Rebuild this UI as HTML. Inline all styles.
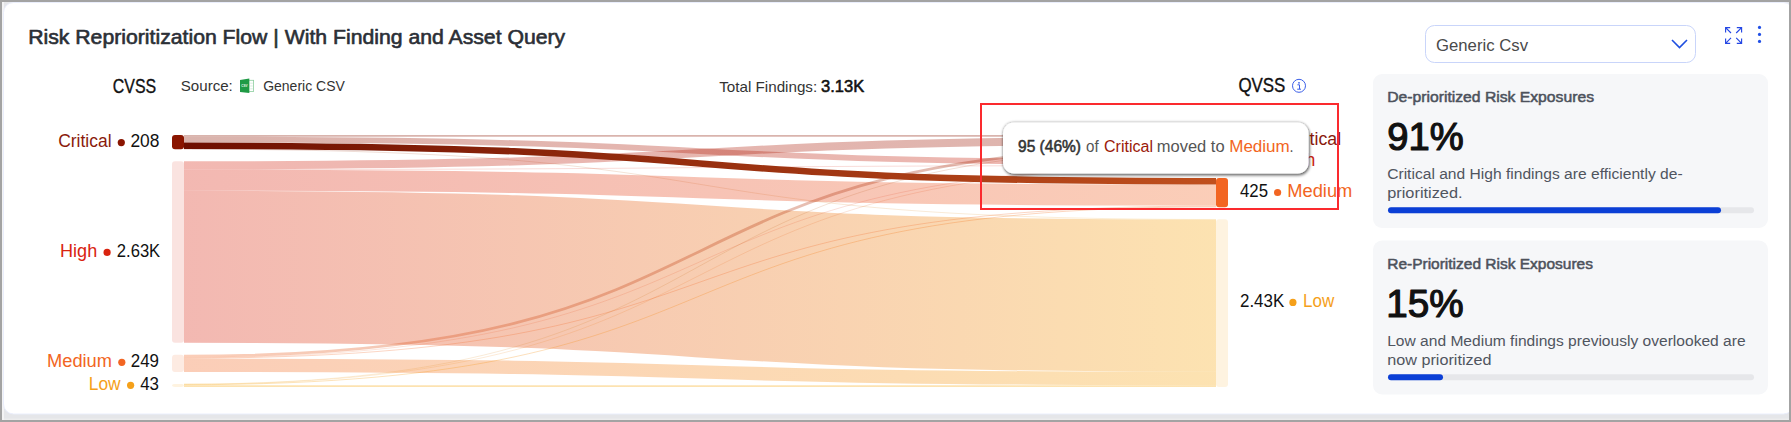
<!DOCTYPE html>
<html><head><meta charset="utf-8"><style>
html,body{margin:0;padding:0;width:1791px;height:422px;overflow:hidden;background:#a3a3a3;}
svg{display:block;}
text{font-family:"Liberation Sans", sans-serif;}
</style></head><body>
<svg width="1791" height="422" viewBox="0 0 1791 422">
<defs>
<linearGradient id="gCC" gradientUnits="userSpaceOnUse" x1="184" x2="1216" y1="0" y2="0"><stop offset="0" stop-color="#8a1500"/><stop offset="1" stop-color="#8a1500"/></linearGradient>
<linearGradient id="gCH" gradientUnits="userSpaceOnUse" x1="184" x2="1216" y1="0" y2="0"><stop offset="0" stop-color="#8a1500"/><stop offset="1" stop-color="#d9230f"/></linearGradient>
<linearGradient id="gCM" gradientUnits="userSpaceOnUse" x1="184" x2="1216" y1="0" y2="0"><stop offset="0" stop-color="#6e0e00"/><stop offset="1" stop-color="#c0501e"/></linearGradient>
<linearGradient id="gCL" gradientUnits="userSpaceOnUse" x1="184" x2="1216" y1="0" y2="0"><stop offset="0" stop-color="#8a1500"/><stop offset="1" stop-color="#f7a60c"/></linearGradient>
<linearGradient id="gHC" gradientUnits="userSpaceOnUse" x1="184" x2="1216" y1="0" y2="0"><stop offset="0" stop-color="#d9230f"/><stop offset="1" stop-color="#8a1500"/></linearGradient>
<linearGradient id="gHH" gradientUnits="userSpaceOnUse" x1="184" x2="1216" y1="0" y2="0"><stop offset="0" stop-color="#d9230f"/><stop offset="1" stop-color="#d9230f"/></linearGradient>
<linearGradient id="gHM" gradientUnits="userSpaceOnUse" x1="184" x2="1216" y1="0" y2="0"><stop offset="0" stop-color="#d9230f"/><stop offset="1" stop-color="#f26522"/></linearGradient>
<linearGradient id="gHL" gradientUnits="userSpaceOnUse" x1="184" x2="1216" y1="0" y2="0"><stop offset="0" stop-color="#d9230f"/><stop offset="1" stop-color="#f7a60c"/></linearGradient>
<linearGradient id="gMC" gradientUnits="userSpaceOnUse" x1="184" x2="1216" y1="0" y2="0"><stop offset="0" stop-color="#f26522"/><stop offset="1" stop-color="#8a1500"/></linearGradient>
<linearGradient id="gMH" gradientUnits="userSpaceOnUse" x1="184" x2="1216" y1="0" y2="0"><stop offset="0" stop-color="#f26522"/><stop offset="1" stop-color="#d9230f"/></linearGradient>
<linearGradient id="gMM" gradientUnits="userSpaceOnUse" x1="184" x2="1216" y1="0" y2="0"><stop offset="0" stop-color="#f26522"/><stop offset="1" stop-color="#f26522"/></linearGradient>
<linearGradient id="gML" gradientUnits="userSpaceOnUse" x1="184" x2="1216" y1="0" y2="0"><stop offset="0" stop-color="#f26522"/><stop offset="1" stop-color="#f7a60c"/></linearGradient>
<linearGradient id="gLC" gradientUnits="userSpaceOnUse" x1="184" x2="1216" y1="0" y2="0"><stop offset="0" stop-color="#f7a60c"/><stop offset="1" stop-color="#8a1500"/></linearGradient>
<linearGradient id="gLH" gradientUnits="userSpaceOnUse" x1="184" x2="1216" y1="0" y2="0"><stop offset="0" stop-color="#f7a60c"/><stop offset="1" stop-color="#d9230f"/></linearGradient>
<linearGradient id="gLM" gradientUnits="userSpaceOnUse" x1="184" x2="1216" y1="0" y2="0"><stop offset="0" stop-color="#f7a60c"/><stop offset="1" stop-color="#f26522"/></linearGradient>
<linearGradient id="gLL" gradientUnits="userSpaceOnUse" x1="184" x2="1216" y1="0" y2="0"><stop offset="0" stop-color="#f7a60c"/><stop offset="1" stop-color="#f7a60c"/></linearGradient>
<filter id="tipsh" x="-10%" y="-40%" width="120%" height="190%">
<feGaussianBlur in="SourceAlpha" stdDeviation="1.6" result="b1"/>
<feOffset in="b1" dx="1.2" dy="1.6" result="o1"/>
<feComponentTransfer in="o1" result="s1"><feFuncA type="linear" slope="0.5"/></feComponentTransfer>
<feGaussianBlur in="SourceAlpha" stdDeviation="1.8" result="b0"/>
<feComponentTransfer in="b0" result="s0"><feFuncA type="linear" slope="0.45"/></feComponentTransfer>
<feMerge><feMergeNode in="s0"/><feMergeNode in="s1"/><feMergeNode in="SourceGraphic"/></feMerge>
</filter>
</defs>
<rect x="0" y="0" width="1791" height="422" fill="#e5e6e9"/>
<rect x="0" y="418.5" width="1791" height="2" fill="#ececed"/>
<rect x="2" y="2" width="2" height="418" fill="#f3f3f4"/>
<rect x="3.5" y="2.5" width="1790" height="411.5" rx="10" fill="#fff" stroke="#eaeefc" stroke-width="1"/>
<!-- header -->
<g>
<rect x="248.8" y="80.3" width="4.8" height="11.2" fill="#fff" stroke="#8ccf9f" stroke-width="0.8"/>
<path d="M240,79.9 L249.3,78.4 L249.3,92.9 L240,92.1 Z" fill="#1f9a45"/>
<text x="241.3" y="87.2" font-size="4.3" font-weight="bold" fill="#e8f6ec" textLength="6.3" lengthAdjust="spacingAndGlyphs">CSV</text>
<line x1="250.2" y1="83.2" x2="252.8" y2="83.2" stroke="#c9e7d2" stroke-width="0.7"/>
<line x1="250.2" y1="86" x2="252.8" y2="86" stroke="#c9e7d2" stroke-width="0.7"/>
<line x1="250.2" y1="88.8" x2="252.8" y2="88.8" stroke="#c9e7d2" stroke-width="0.7"/>
</g>
<g transform="translate(1299,85.8)">
<circle r="6.5" fill="none" stroke="#3b5fe8" stroke-width="1"/>
<circle cx="0" cy="-3" r="0.9" fill="#3b5fe8"/>
<path d="M-1.6,-1 H0.5 V3.2 M-1.8,3.4 H2" stroke="#3b5fe8" stroke-width="1" fill="none"/>
</g>
<!-- sankey -->
<g>
<path d="M184,135.83C784,135.83 616,135.83 1216,135.83" fill="none" stroke="url(#gCC)" stroke-opacity="0.32" stroke-width="1.66"/>
<path d="M184,139.55C784,139.55 616,162.53 1216,162.53" fill="none" stroke="url(#gCH)" stroke-opacity="0.32" stroke-width="5.80"/>
<path d="M184,149.18C784,149.18 616,219.48 1216,219.48" fill="none" stroke="url(#gCL)" stroke-opacity="0.32" stroke-width="0.50"/>
<path d="M184,165.36C784,165.36 616,140.66 1216,140.66" fill="none" stroke="url(#gHC)" stroke-opacity="0.32" stroke-width="8.01"/>
<path d="M184,169.53C784,169.53 616,165.60 1216,165.60" fill="none" stroke="url(#gHH)" stroke-opacity="0.32" stroke-width="0.50"/>
<path d="M184,180.23C784,180.23 616,195.06 1216,195.06" fill="none" stroke="url(#gHM)" stroke-opacity="0.32" stroke-width="21.05"/>
<path d="M184,266.80C784,266.80 616,295.70 1216,295.70" fill="none" stroke="url(#gHL)" stroke-opacity="0.32" stroke-width="152.10"/>
<path d="M184,356.23C784,356.23 616,146.04 1216,146.04" fill="none" stroke="url(#gMC)" stroke-opacity="0.32" stroke-width="2.76"/>
<path d="M184,357.68C784,357.68 616,165.84 1216,165.84" fill="none" stroke="url(#gMH)" stroke-opacity="0.32" stroke-width="0.50"/>
<path d="M184,358.16C784,358.16 616,206.00 1216,206.00" fill="none" stroke="url(#gMM)" stroke-opacity="0.32" stroke-width="0.83"/>
<path d="M184,365.30C784,365.30 616,378.48 1216,378.48" fill="none" stroke="url(#gML)" stroke-opacity="0.32" stroke-width="13.46"/>
<path d="M184,384.14C784,384.14 616,147.53 1216,147.53" fill="none" stroke="url(#gLC)" stroke-opacity="0.32" stroke-width="0.50"/>
<path d="M184,384.27C784,384.27 616,165.94 1216,165.94" fill="none" stroke="url(#gLH)" stroke-opacity="0.32" stroke-width="0.50"/>
<path d="M184,384.76C784,384.76 616,206.86 1216,206.86" fill="none" stroke="url(#gLM)" stroke-opacity="0.32" stroke-width="0.90"/>
<path d="M184,386.10C784,386.10 616,386.10 1216,386.10" fill="none" stroke="url(#gLL)" stroke-opacity="0.32" stroke-width="1.79"/>
<path d="M184,145.73C784,145.73 616,181.26 1216,181.26" fill="none" stroke="url(#gCM)" stroke-opacity="1" stroke-width="6.56"/>
</g>
<g>
<rect x="172" y="135.00" width="12" height="14.35" rx="3" fill="#8a1500" fill-opacity="1"/>
<rect x="1216" y="135.00" width="12" height="12.63" rx="3" fill="#8a1500" fill-opacity="0.13"/>
<rect x="172" y="161.35" width="12" height="181.50" rx="3" fill="#d9230f" fill-opacity="0.13"/>
<rect x="1216" y="159.63" width="12" height="6.35" rx="3" fill="#d9230f" fill-opacity="0.13"/>
<rect x="172" y="354.85" width="12" height="17.18" rx="3" fill="#f26522" fill-opacity="0.13"/>
<rect x="1216" y="177.98" width="12" height="29.33" rx="3" fill="#f26522" fill-opacity="1"/>
<rect x="172" y="384.03" width="12" height="2.97" rx="3" fill="#f7a60c" fill-opacity="0.13"/>
<rect x="1216" y="219.31" width="12" height="167.69" rx="3" fill="#f7a60c" fill-opacity="0.13"/>
</g>
<!-- left labels -->
<circle cx="121.3" cy="142.6" r="3.6" fill="#8a1500"/>
<circle cx="107.1" cy="252.4" r="3.6" fill="#d9230f"/>
<circle cx="121.8" cy="362.3" r="3.6" fill="#f26522"/>
<circle cx="130.6" cy="385.3" r="3.6" fill="#f5a01a"/>
<!-- right labels -->
<circle cx="1277.6" cy="140.1" r="3.6" fill="#8a1500"/>
<circle cx="1268.6" cy="161.8" r="3.6" fill="#d9230f"/>
<circle cx="1277.6" cy="192.5" r="3.6" fill="#f26522"/>
<circle cx="1292.9" cy="302.4" r="3.6" fill="#f5a01a"/>
<text x="28.2" y="44" font-size="19.8" stroke="#2b2f36" stroke-width="0.6" stroke-linejoin="round" fill="#2b2f36" textLength="537.0" lengthAdjust="spacingAndGlyphs">Risk Reprioritization Flow | With Finding and Asset Query</text>
<text x="112.8" y="92.8" font-size="19.3" stroke="#111" stroke-width="0.35" stroke-linejoin="round" fill="#111" textLength="43.4" lengthAdjust="spacingAndGlyphs">CVSS</text>
<text x="180.8" y="91" font-size="14.6" fill="#333" textLength="52.0" lengthAdjust="spacingAndGlyphs">Source:</text>
<text x="263.2" y="91" font-size="14.6" fill="#333" textLength="81.6" lengthAdjust="spacingAndGlyphs">Generic CSV</text>
<text x="719.2" y="91.8" font-size="15" fill="#333" textLength="98.0" lengthAdjust="spacingAndGlyphs">Total Findings:</text>
<text x="821.0" y="92" font-size="16.5" stroke="#111" stroke-width="0.55" stroke-linejoin="round" fill="#111" textLength="43.2" lengthAdjust="spacingAndGlyphs">3.13K</text>
<text x="1238.4" y="91.7" font-size="19.3" stroke="#111" stroke-width="0.35" stroke-linejoin="round" fill="#111" textLength="47.0" lengthAdjust="spacingAndGlyphs">QVSS</text>
<text x="58.2" y="147" font-size="17.5" fill="#8a1a0c" textLength="53.4" lengthAdjust="spacingAndGlyphs">Critical</text>
<text x="130.4" y="147" font-size="17.5" fill="#111" textLength="29.0" lengthAdjust="spacingAndGlyphs">208</text>
<text x="60.0" y="256.8" font-size="17.5" fill="#d9230f" textLength="37.2" lengthAdjust="spacingAndGlyphs">High</text>
<text x="116.8" y="256.8" font-size="17.5" fill="#111" textLength="43.4" lengthAdjust="spacingAndGlyphs">2.63K</text>
<text x="47.0" y="366.9" font-size="17.5" fill="#f26522" textLength="65.0" lengthAdjust="spacingAndGlyphs">Medium</text>
<text x="130.8" y="366.9" font-size="17.5" fill="#111" textLength="28.2" lengthAdjust="spacingAndGlyphs">249</text>
<text x="88.8" y="390" font-size="17.5" fill="#f5a01a" textLength="31.8" lengthAdjust="spacingAndGlyphs">Low</text>
<text x="140.2" y="390" font-size="17.5" fill="#111" textLength="18.8" lengthAdjust="spacingAndGlyphs">43</text>
<text x="1239.0" y="144.5" font-size="17.5" fill="#111" textLength="29.0" lengthAdjust="spacingAndGlyphs">181</text>
<text y="144.5" font-size="17.5"><tspan x="1288.5" fill="#8a1a0c" textLength="20.0" lengthAdjust="spacingAndGlyphs">Cri</tspan><tspan x="1309.6" fill="#8a1a0c" textLength="31.6" lengthAdjust="spacingAndGlyphs">tical</tspan></text>
<text x="1239.0" y="166.2" font-size="17.5" fill="#111" textLength="19.8" lengthAdjust="spacingAndGlyphs">94</text>
<text y="166.2" font-size="17.5"><tspan x="1277.0" fill="#d9230f" textLength="27.0" lengthAdjust="spacingAndGlyphs">Hig</tspan><tspan x="1305.4" fill="#c8200f" textLength="9.8" lengthAdjust="spacingAndGlyphs">h</tspan></text>
<text x="1240.0" y="196.5" font-size="17.5" fill="#111" textLength="28.0" lengthAdjust="spacingAndGlyphs">425</text>
<text x="1287.2" y="196.5" font-size="17.5" fill="#f26522" textLength="65.2" lengthAdjust="spacingAndGlyphs">Medium</text>
<text x="1240.0" y="306.9" font-size="17.5" fill="#111" textLength="44.2" lengthAdjust="spacingAndGlyphs">2.43K</text>
<text x="1303.0" y="306.9" font-size="17.5" fill="#f5a01a" textLength="31.2" lengthAdjust="spacingAndGlyphs">Low</text>
<!-- tooltip -->
<rect x="1003" y="122.6" width="305.6" height="50.9" rx="11" fill="#fff" filter="url(#tipsh)"/>
<text x="1018.0" y="151.9" font-size="16" stroke="#333" stroke-width="0.55" stroke-linejoin="round" fill="#333" textLength="63.0" lengthAdjust="spacingAndGlyphs">95 (46%)</text>
<text x="1086.0" y="151.9" font-size="16" fill="#555" textLength="12.6" lengthAdjust="spacingAndGlyphs">of</text>
<text x="1104.0" y="151.9" font-size="16" fill="#9b1a0a" textLength="49.0" lengthAdjust="spacingAndGlyphs">Critical</text>
<text x="1156.8" y="151.9" font-size="16" fill="#555" textLength="67.8" lengthAdjust="spacingAndGlyphs">moved to</text>
<text x="1229.2" y="151.9" font-size="16" fill="#f26522" textLength="60.6" lengthAdjust="spacingAndGlyphs">Medium</text>
<text x="1289.6" y="151.9" font-size="16" fill="#555" textLength="4.0" lengthAdjust="spacingAndGlyphs">.</text>
<!-- red annotation -->
<rect x="981" y="104" width="357" height="105" fill="none" stroke="#fb2a2e" stroke-width="2"/>
<!-- dropdown -->
<rect x="1425.5" y="25.5" width="270" height="37" rx="9" fill="#fff" stroke="#c9d5fa" stroke-width="1"/>
<path d="M1672,40 L1679.5,47.5 L1687,40" fill="none" stroke="#1f4fe0" stroke-width="1.6"/>
<!-- expand icon -->
<g stroke="#2447e4" stroke-width="1.15" fill="none">
<path d="M1730.2,27.6 H1725.6 V32.4 M1725.6,27.6 L1731,33"/>
<path d="M1736.8,27.6 H1741.6 V32.4 M1741.6,27.6 L1736.2,33"/>
<path d="M1730.2,43.3 H1725.6 V38.5 M1725.6,43.3 L1731,37.9"/>
<path d="M1736.8,43.3 H1741.6 V38.5 M1741.6,43.3 L1736.2,37.9"/>
</g>
<circle cx="1759.5" cy="27.4" r="1.6" fill="#2150e6"/>
<circle cx="1759.5" cy="34.4" r="1.6" fill="#2150e6"/>
<circle cx="1759.5" cy="41.4" r="1.6" fill="#2150e6"/>
<!-- right cards -->
<rect x="1373" y="74" width="395" height="154" rx="9" fill="#f6f7f9"/>
<rect x="1388" y="207.3" width="366" height="6" rx="3" fill="#e6e7ea"/>
<rect x="1388" y="207.3" width="333" height="6" rx="3" fill="#0b3fd6"/>
<rect x="1373" y="240.5" width="395" height="154" rx="9" fill="#f6f7f9"/>
<rect x="1388" y="374.3" width="366" height="6" rx="3" fill="#e6e7ea"/>
<rect x="1388" y="374.3" width="55" height="6" rx="3" fill="#0b3fd6"/>
<text x="1436.0" y="51" font-size="17" fill="#4a4a4a" textLength="92.0" lengthAdjust="spacingAndGlyphs">Generic Csv</text>
<text x="1387.2" y="101.8" font-size="14.6" stroke="#4d525c" stroke-width="0.5" stroke-linejoin="round" fill="#4d525c" textLength="206.8" lengthAdjust="spacingAndGlyphs">De-prioritized Risk Exposures</text>
<text x="1387.2" y="150" font-size="38" stroke="#111" stroke-width="1.2" stroke-linejoin="round" fill="#111" textLength="76.4" lengthAdjust="spacingAndGlyphs">91%</text>
<text x="1387.2" y="179.3" font-size="15.4" fill="#50555f" textLength="295.4" lengthAdjust="spacingAndGlyphs">Critical and High findings are efficiently de-</text>
<text x="1387.2" y="197.6" font-size="15.4" fill="#50555f" textLength="75.4" lengthAdjust="spacingAndGlyphs">prioritized.</text>
<text x="1387.2" y="268.6" font-size="14.6" stroke="#4d525c" stroke-width="0.5" stroke-linejoin="round" fill="#4d525c" textLength="205.8" lengthAdjust="spacingAndGlyphs">Re-Prioritized Risk Exposures</text>
<text x="1386.2" y="317" font-size="38" stroke="#111" stroke-width="1.2" stroke-linejoin="round" fill="#111" textLength="77.4" lengthAdjust="spacingAndGlyphs">15%</text>
<text x="1387.2" y="346" font-size="15.4" fill="#50555f" textLength="358.4" lengthAdjust="spacingAndGlyphs">Low and Medium findings previously overlooked are</text>
<text x="1387.2" y="364.7" font-size="15.4" fill="#50555f" textLength="104.4" lengthAdjust="spacingAndGlyphs">now prioritized</text>
<g fill="#a3a3a3"><rect x="0" y="0" width="1791" height="2"/><rect x="0" y="0" width="2" height="422"/><rect x="1789" y="0" width="2" height="422"/><rect x="0" y="420" width="1791" height="2"/></g>
</svg>
</body></html>
